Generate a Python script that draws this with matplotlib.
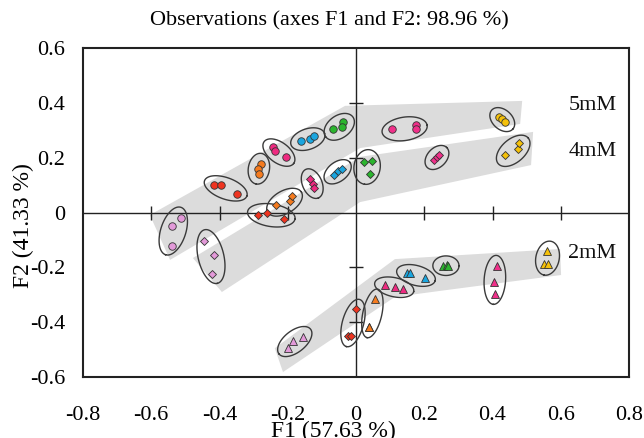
import numpy as np
import matplotlib
matplotlib.use("Agg")
import matplotlib.pyplot as plt
from matplotlib.patches import Polygon

plt.rcParams['font.family'] = ['Liberation Serif', 'DejaVu Serif']

# ---------------- data ----------------
group_colors = ['#e39ad9', '#ee3420', '#f57b1f', '#ee2a80',
                '#1aa6e0', '#2bb52e', '#f0308a', '#f5c10a']
group_idx = [0, 0, 0, 1, 1, 1, 2, 2, 2, 3, 3, 3,
             4, 4, 4, 5, 5, 5, 6, 6, 6, 7, 7, 7]

# 5mM (circles)
f1_5mM = [-0.514, -0.540, -0.540, -0.416, -0.396, -0.350, -0.279, -0.288, -0.284,
          -0.243, -0.238, -0.206, -0.162, -0.135, -0.122, -0.037, -0.040, -0.067,
          0.106, 0.177, 0.177, 0.420, 0.429, 0.436]
f2_5mM = [-0.021, -0.049, -0.121, 0.099, 0.099, 0.069, 0.177, 0.158, 0.141,
          0.238, 0.226, 0.204, 0.262, 0.267, 0.279, 0.331, 0.313, 0.304,
          0.306, 0.320, 0.304, 0.347, 0.340, 0.329]

# 4mM (diamonds)
f1_4mM = [-0.446, -0.416, -0.423, -0.288, -0.262, -0.210, -0.235, -0.192, -0.189,
          -0.135, -0.127, -0.123, -0.065, -0.052, -0.042, 0.024, 0.046, 0.040,
          0.230, 0.238, 0.244, 0.436, 0.476, 0.477]
f2_4mM = [-0.103, -0.155, -0.224, -0.009, -0.001, -0.024, 0.026, 0.043, 0.060,
          0.122, 0.104, 0.088, 0.137, 0.151, 0.159, 0.184, 0.189, 0.139,
          0.192, 0.201, 0.210, 0.209, 0.231, 0.253]

# 2mM (triangles)
f1_2mM = [-0.184, -0.155, -0.199, -0.001, -0.023, -0.016, 0.057, 0.039, 0.039,
          0.085, 0.114, 0.139, 0.149, 0.158, 0.202, 0.256, 0.266, 0.271,
          0.413, 0.403, 0.408, 0.559, 0.551, 0.564]
f2_2mM = [-0.469, -0.453, -0.496, -0.353, -0.451, -0.450, -0.317, -0.419, -0.419,
          -0.265, -0.273, -0.280, -0.222, -0.222, -0.240, -0.195, -0.193, -0.195,
          -0.195, -0.253, -0.297, -0.141, -0.189, -0.189]

# grey trend bands (data coordinates)
band_5mM_x = [-0.604, -0.032, 0.487, 0.481, 0.012, -0.545]
band_5mM_y = [-0.009, 0.389, 0.407, 0.323, 0.235, -0.173]
band_4mM_x = [-0.478, 0.012, 0.519, 0.513, 0.012, -0.393]
band_4mM_y = [-0.166, 0.203, 0.294, 0.173, 0.038, -0.290]
band_2mM_x = [-0.238, 0.114, 0.598, 0.601, 0.246, 0.114, -0.214]
band_2mM_y = [-0.495, -0.170, -0.133, -0.228, -0.286, -0.308, -0.582]

series_labels = ['5mM', '4mM', '2mM']
label_pos_x = [0.622, 0.622, 0.622]
label_pos_y = [0.392, 0.221, -0.148]

xticks = [-0.8, -0.6, -0.4, -0.2, 0, 0.2, 0.4, 0.6, 0.8]
yticks = [-0.6, -0.4, -0.2, 0, 0.2, 0.4, 0.6]

# ---------------- figure ----------------
fig = plt.figure(figsize=(6.44, 4.38), dpi=100)
ax = fig.add_axes([83/644, 1-377/438, (629-83)/644, (377-48)/438])
ax.set_xlim(-0.8, 0.8)
ax.set_ylim(-0.6, 0.6)

SX, SY = 341.0, 274.0  # px per data unit (for nice ellipses)


def ellipse_curve(xs, ys, pad_a=10.5, pad_b=9.5):
    P = np.c_[np.asarray(xs) * SX, np.asarray(ys) * SY]
    best = (0, 1, -1)
    for i in range(len(P)):
        for j in range(i + 1, len(P)):
            d = np.linalg.norm(P[j] - P[i])
            if d > best[2]:
                best = (i, j, d)
    i, j, d = best
    if d < 1e-6:
        u = np.array([1.0, 0.0])
    else:
        u = (P[j] - P[i]) / d
    v = np.array([-u[1], u[0]])
    c0 = P.mean(axis=0)
    pu = (P - c0) @ u
    pv = (P - c0) @ v
    c = c0 + u * (pu.max() + pu.min()) / 2 + v * (pv.max() + pv.min()) / 2
    a = (pu.max() - pu.min()) / 2 + pad_a
    b = (pv.max() - pv.min()) / 2 + pad_b
    t = np.linspace(0, 2 * np.pi, 120)
    pts = c[None, :] + np.outer(a * np.cos(t), u) + np.outer(b * np.sin(t), v)
    return pts[:, 0] / SX, pts[:, 1] / SY


# bands
for bx, by in [(band_5mM_x, band_5mM_y), (band_4mM_x, band_4mM_y), (band_2mM_x, band_2mM_y)]:
    ax.add_patch(Polygon(np.c_[bx, by], closed=True, facecolor='#dcdcdc',
                         edgecolor='none', zorder=1))

# centre axes lines with tick marks
ax.axhline(0, color='#222222', lw=1.0, zorder=2)
ax.axvline(0, color='#222222', lw=1.0, zorder=2)
cx = [t for t in xticks if t not in (0, -0.8, 0.8)]
cy = [t for t in yticks if t not in (0, -0.6, 0.6)]
ax.plot(cx, [0] * len(cx), ls='none', marker='|', ms=9.5, mew=1.0, color='#222222', zorder=2)
ax.plot([0] * len(cy), cy, ls='none', marker='_', ms=9.5, mew=1.0, color='#222222', zorder=2)

series = [(f1_5mM, f2_5mM, 'o', 5.4), (f1_4mM, f2_4mM, 'D', 4.2), (f1_2mM, f2_2mM, '^', 6.2)]
gi = np.array(group_idx)
for s, (fx, fy, mk, ms) in enumerate(series):
    fx = np.array(fx)
    fy = np.array(fy)
    for g in range(8):
        m = gi == g
        ex, ey = ellipse_curve(fx[m], fy[m])
        ax.plot(ex, ey, color='#3a3a3a', lw=1.0, zorder=3)
        mk_g, ms_g = mk, ms
        if s == 2 and g == 1:
            mk_g, ms_g = 'D', 4.2
        ax.plot(fx[m], fy[m], ls='none', marker=mk_g, ms=ms_g,
                markerfacecolor=group_colors[g], markeredgecolor='#333333',
                mew=0.6, zorder=4)

for lab, lx, ly in zip(series_labels, label_pos_x, label_pos_y):
    ax.text(lx, ly, lab, fontsize=16, ha='left', va='center', color='#111111')

# frame and ticks
for sp in ax.spines.values():
    sp.set_linewidth(1.5)
    sp.set_color('#222222')
ax.set_xticks(xticks)
ax.set_yticks(yticks)
ax.set_xticklabels(['-0.8', '-0.6', '-0.4', '-0.2', '0', '0.2', '0.4', '0.6', '0.8'])
ax.set_yticklabels(['-0.6', '-0.4', '-0.2', '0', '0.2', '0.4', '0.6'])
ax.tick_params(axis='x', length=0, pad=21, labelsize=16)
ax.tick_params(axis='y', length=0, pad=13, labelsize=16)

fig.text(0.511, 0.953, 'Observations (axes F1 and F2: 98.96 %)', fontsize=16,
         ha='center', va='center')
fig.text(0.517, 0.039, 'F1 (57.63 %)', fontsize=17, ha='center', va='top')
fig.text(0.036, 0.486, 'F2 (41.33 %)', fontsize=17, ha='center', va='center',
         rotation=90)

fig.savefig('out.png', dpi=100)
